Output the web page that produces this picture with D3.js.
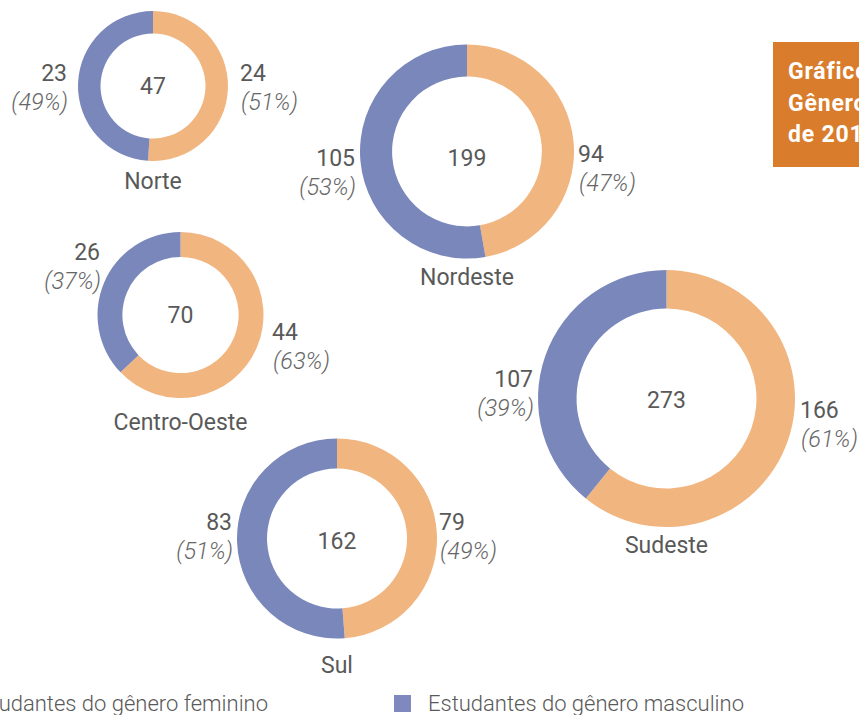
<!DOCTYPE html>
<html>
<head>
<meta charset="utf-8">
<script src="https://cdn.jsdelivr.net/npm/d3@7"></script>
<style>
  body { margin: 0; background: #fff; }
  svg { display: block; }
</style>
</head>
<body>
<div id="chart"></div>
<script>
// data
const regioes = ['Norte', 'Nordeste', 'Centro-Oeste', 'Sudeste', 'Sul'];
const feminino = [24, 94, 44, 166, 79];
const masculino = [23, 105, 26, 107, 83];
const legendaTextos = ['Estudantes do gênero feminino', 'Estudantes do gênero masculino'];
const tituloLinhas = ['Gráfico 3', 'Gênero dos', 'de 2016'];

// layout of each donut (centre, outer radius, label offsets)
const layout = [
  {cx: 153,   cy: 86,    r: 75,    fem: [87, -5],     masc: [-86, -5],     mid: 0,   name: 28},
  {cx: 467,   cy: 151.5, r: 107,   fem: [111, 10],    masc: [-112, 14],    mid: 6,   name: 26.5},
  {cx: 180.5, cy: 315,   r: 83,    fem: [91.5, 25],   masc: [-80.5, -55],  mid: 0,   name: 32},
  {cx: 666.5, cy: 398.5, r: 128.5, fem: [133.5, 19.5], masc: [-133.5, -11.5], mid: 1.5, name: 26},
  {cx: 337,   cy: 538.5, r: 100,   fem: [102, -8.5],  masc: [-105, -8.5],  mid: 2.5, name: 34.5}
];

const width = 859, height = 715;
const corFem = '#f1b580', corMasc = '#7a87bb', corTexto = '#595959';
const fonte = 'Roboto, "Open Sans", sans-serif';

const svg = d3.select('#chart').append('svg')
    .attr('width', width)
    .attr('height', height)
    .style('font-family', fonte);

const pie = d3.pie().sort(null).value(d => d.v);
const pct = d3.format('.0%');

regioes.forEach((nome, i) => {
    const L = layout[i];
    const total = feminino[i] + masculino[i];
    const fatias = [
        {k: 'fem', v: feminino[i], cor: corFem},
        {k: 'masc', v: masculino[i], cor: corMasc}
    ];
    const arc = d3.arc().innerRadius(L.r * 0.7).outerRadius(L.r);

    const g = svg.append('g')
        .attr('transform', `translate(${L.cx},${L.cy})`);

    g.selectAll('path')
        .data(pie(fatias))
        .join('path')
        .attr('d', arc)
        .attr('fill', d => d.data.cor);

    // total in the middle
    g.append('text')
        .attr('y', L.mid)
        .attr('dy', '0.35em')
        .attr('text-anchor', 'middle')
        .style('font-size', '23px')
        .style('fill', corTexto)
        .text(total);

    // value labels
    fatias.forEach(f => {
        const [dx, dy] = L[f.k];
        const anchor = f.k === 'fem' ? 'start' : 'end';
        g.append('text')
            .attr('x', dx).attr('y', dy)
            .attr('text-anchor', anchor)
            .style('font-size', '23px')
            .style('fill', corTexto)
            .text(f.v);
        g.append('text')
            .attr('x', dx + (f.k === 'fem' ? 1 : 1)).attr('y', dy + 29)
            .attr('text-anchor', anchor)
            .style('font-size', '23.5px')
            .style('font-style', 'italic')
            .style('font-weight', 300)
            .style('fill', '#666')
            .text(`(${pct(f.v / total)})`);
    });

    // region name
    g.append('text')
        .attr('y', L.r + L.name)
        .attr('text-anchor', 'middle')
        .style('font-size', '23px')
        .style('fill', corTexto)
        .text(nome);
});

// title box (cut by the page edge)
const titulo = svg.append('g');
titulo.append('rect')
    .attr('x', 773).attr('y', 42)
    .attr('width', 120).attr('height', 125)
    .attr('fill', '#d97c2b');
titulo.selectAll('text')
    .data(tituloLinhas)
    .join('text')
    .attr('x', 788)
    .attr('y', (d, i) => 79 + i * 31.5)
    .style('font-size', '23px')
    .style('letter-spacing', '0.8px')
    .style('font-weight', 'bold')
    .style('fill', '#fff')
    .text(d => d);

// legend
const legenda = svg.append('g')
    .style('font-size', '22px')
    .style('font-weight', 300)
    .style('fill', corTexto);

const tFem = legenda.append('text')
    .attr('x', 268).attr('y', 711)
    .attr('text-anchor', 'end')
    .text(legendaTextos[0]);
const bFem = tFem.node().getBBox();
legenda.append('rect')
    .attr('x', bFem.x - 34).attr('y', 695)
    .attr('width', 17).attr('height', 17)
    .attr('fill', corFem);

legenda.append('rect')
    .attr('x', 394).attr('y', 695)
    .attr('width', 17).attr('height', 17)
    .attr('fill', '#8089bd');
legenda.append('text')
    .attr('x', 428).attr('y', 711)
    .text(legendaTextos[1]);
</script>
</body>
</html>
